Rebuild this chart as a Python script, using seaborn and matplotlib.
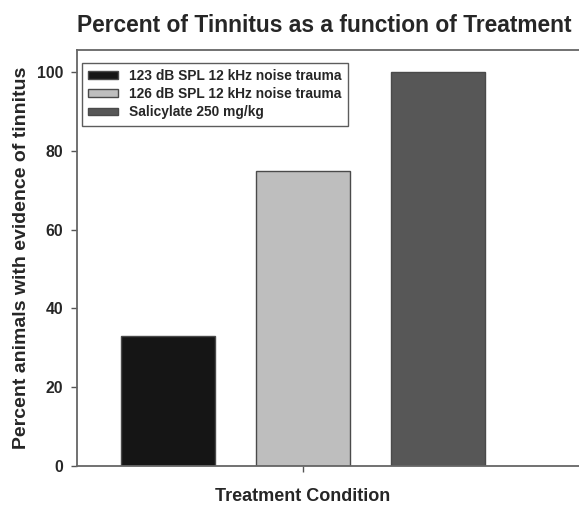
import seaborn as sns
import matplotlib.pyplot as plt
import pandas as pd

sns.set_style("white")
plt.rcParams['font.family'] = ['Liberation Sans', 'DejaVu Sans']

# values
conditions = ["123 dB SPL 12 kHz noise trauma",
              "126 dB SPL 12 kHz noise trauma",
              "Salicylate 250 mg/kg"]
percent = [33, 75, 100]
colors = ["#151515", "#bebebe", "#575757"]
y_ticks = [0, 20, 40, 60, 80, 100]

df = pd.DataFrame({"group": ["all"] * 3, "condition": conditions, "percent": percent})

fig = plt.figure(figsize=(5.79, 5.05), dpi=100)
ax = fig.add_axes([77 / 579, 1 - 466 / 505, 1 - 77 / 579, (466 - 50) / 505])

sns.barplot(data=df, x="group", y="percent", hue="condition", palette=colors,
            gap=0.3, edgecolor="#4a4a4a", linewidth=1.0, ax=ax)

ax.set_xlim(-0.4466, 0.545)
ax.set_ylim(0, 105.6)
ax.set_yticks(y_ticks)
ax.set_xticks([0])
ax.set_xticklabels([""])
ax.tick_params(axis="both", direction="out", length=4, width=1, color="#555555",
               labelsize=11.4, pad=6, left=True, bottom=True)
for lab in ax.get_yticklabels():
    lab.set_fontweight("bold")

for side in ["left", "top", "bottom"]:
    ax.spines[side].set_color("#666666")
    ax.spines[side].set_linewidth(1.3)
ax.spines["right"].set_visible(False)

ax.set_xlabel("Treatment Condition", fontsize=13, fontweight="bold")
ax.xaxis.set_label_coords((303 - 77) / 502, -0.052)
ax.set_ylabel("Percent animals with evidence of tinnitus", fontsize=14,
              fontweight="bold", labelpad=5)

fig.text(77 / 579, 1 - 25 / 505, "Percent of Tinnitus as a function of Treatment",
         fontsize=16.4, fontweight="bold", ha="left", va="center")

leg = ax.legend(loc="upper left", bbox_to_anchor=(0.01, 0.969), borderaxespad=0,
                frameon=True, fancybox=False, edgecolor="#333333",
                handlelength=2.2, handleheight=0.5, labelspacing=0.3,
                prop={"size": 9.9, "weight": "bold"}, borderpad=0.45)
leg.get_frame().set_linewidth(1.0)

fig.savefig("out.png", dpi=100)
